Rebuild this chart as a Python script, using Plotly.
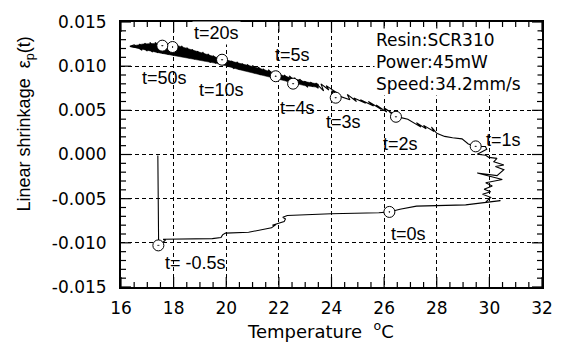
import plotly.graph_objects as go

# ---- data ----
# lower branch: start of exposure, t=-0.5s -> t=0s -> t=1s
low_x = [17.40, 17.43, 17.55, 17.68, 17.60, 17.75, 19.47, 19.80, 19.86, 19.97, 20.85, 21.72,
         21.90, 21.75, 21.95, 22.20, 22.25, 22.15, 22.32, 23.98, 25.80, 26.20, 26.60, 27.23,
         29.10, 29.98, 30.42, 29.86, 30.05, 29.74, 30.05, 29.80, 30.11, 29.86, 30.49, 29.54,
         30.29, 30.55, 30.23, 30.55, 30.17, 30.29, 29.98, 29.86, 29.54, 29.90, 29.85]
low_y = [-0.0001, -0.0102, -0.0101, -0.0097, -0.0096, -0.0096, -0.00952, -0.0094, -0.0091,
         -0.0089, -0.0088, -0.0083, -0.0079, -0.0080, -0.0078, -0.0076, -0.0073, -0.0071,
         -0.0069, -0.0067, -0.0066, -0.0065, -0.0062, -0.00584, -0.0057, -0.0054, -0.00522,
         -0.0054, -0.00485, -0.00449, -0.00422, -0.00394, -0.00356, -0.0032, -0.00283,
         -0.0021, -0.00239, -0.00173, -0.00136, -0.00118, -0.00081, -0.00044, -0.00033,
         -0.00008, 0.00003, 0.0006, 0.0009]

# upper branch: t=1s -> t=50s (cooling, shrinkage grows)
up_x = [29.48, 29.20, 28.96, 28.60, 28.30, 28.00, 27.80, 27.90, 27.50, 27.60, 27.23, 27.40,
        26.90, 26.60, 26.45, 26.20, 26.40, 25.99, 26.10, 25.70, 25.90, 25.40, 25.60, 25.10,
        25.30, 24.85, 24.95, 24.60, 24.70, 24.30, 24.16, 24.00, 24.20, 23.80, 23.90, 23.60,
        23.70, 23.40, 23.50, 23.20, 23.30, 22.97, 23.10, 22.80, 22.54, 22.60, 22.70, 22.40,
        22.50, 22.20, 22.30, 22.00, 21.88, 21.80, 21.90, 21.60, 21.70, 21.40, 21.50, 21.22,
        21.30, 21.00, 21.10, 20.80, 20.90, 20.60, 20.70, 20.40, 20.50, 20.20, 20.30, 20.00,
        19.84, 19.70, 19.80, 19.50, 19.60, 19.30, 19.40, 19.10, 19.20, 18.90, 19.00, 18.70,
        18.80, 18.50, 18.60, 18.30, 18.40, 18.10, 17.96, 17.90, 18.00, 17.70, 17.80, 17.50,
        17.60, 17.30, 17.40, 17.10, 17.20, 16.90, 17.00, 16.70, 16.80, 16.50, 16.34, 16.60,
        17.00, 17.30, 17.57]
up_y = [0.00092, 0.0012, 0.00177, 0.0019, 0.00205, 0.0024, 0.0031, 0.0026, 0.0033, 0.0029,
        0.0036, 0.0031, 0.0040, 0.0042, 0.00427, 0.0048, 0.0045, 0.0053, 0.0048, 0.0056,
        0.0051, 0.0060, 0.0055, 0.0062, 0.0058, 0.0064, 0.0060, 0.0068, 0.0062, 0.0066,
        0.00643, 0.0072, 0.0070, 0.0078, 0.0073, 0.0080, 0.0072, 0.0081, 0.0075, 0.0082,
        0.0077, 0.0083, 0.0076, 0.0085, 0.00802, 0.0087, 0.0080, 0.0089, 0.0082, 0.0090,
        0.0083, 0.0092, 0.00886, 0.0094, 0.0087, 0.0096, 0.0088, 0.0097, 0.0090, 0.0099,
        0.0090, 0.0101, 0.0092, 0.0102, 0.0094, 0.0103, 0.0095, 0.0105, 0.0096, 0.0106,
        0.0097, 0.0108, 0.01073, 0.0110, 0.0102, 0.0112, 0.0103, 0.0114, 0.0104, 0.0116,
        0.0106, 0.0117, 0.0107, 0.0119, 0.0108, 0.0121, 0.0109, 0.0123, 0.0111, 0.0124,
        0.01217, 0.0125, 0.0112, 0.0126, 0.0113, 0.0127, 0.0114, 0.0127, 0.0115, 0.0127,
        0.0116, 0.0126, 0.0117, 0.0125, 0.0118, 0.0124, 0.01224, 0.0121, 0.0120, 0.0121,
        0.01232]

# envelope of the dense (overplotted) part of the upper branch
band_x = [16.34, 16.84, 17.46, 18.09, 18.72, 19.34, 19.72, 20.47, 21.22, 22.22, 22.97, 23.50]
band_top = [0.01224, 0.01252, 0.01260, 0.01238, 0.01183, 0.01128, 0.01092, 0.01035, 0.00980,
            0.00888, 0.00826, 0.00798]
band_bot = [0.01224, 0.01190, 0.01150, 0.01120, 0.01082, 0.01046, 0.01026, 0.00962, 0.00905,
            0.00836, 0.00780, 0.00760]

# time markers
mark_t = ["t= -0.5s", "t=0s", "t=1s", "t=2s", "t=3s", "t=4s", "t=5s", "t=10s", "t=20s", "t=50s"]
mark_x = [17.42, 26.20, 29.48, 26.45, 24.16, 22.54, 21.88, 19.84, 17.96, 17.57]
mark_y = [-0.01029, -0.0065, 0.00092, 0.00427, 0.00643, 0.00802, 0.00886, 0.01073, 0.01217, 0.01232]
# where each time label sits (data coordinates)
label_x = [18.85, 26.93, 30.54, 26.63, 24.45, 22.69, 22.50, 19.83, 19.64, 17.65]
label_y = [-0.01224, -0.00904, 0.00168, 0.00121, 0.00364, 0.00529, 0.01125, 0.00728, 0.01380, 0.00871]

info_lines = ["Resin:SCR310", "Power:45mW", "Speed:34.2mm/s"]

# axis tick grid
x_major = [16, 18, 20, 22, 24, 26, 28, 30, 32]
y_major = [-0.015, -0.010, -0.005, 0.0, 0.005, 0.010, 0.015]
x_minor = [16 + 0.5 * i for i in range(33) if i % 4]
y_minor = [round(-0.015 + 0.001 * i, 4) for i in range(31) if i % 5]

# ---- figure ----
W, H = 565, 347
ML, MR, MT, MB = 121, 18, 15, 60
PW, PH = W - ML - MR, H - MT - MB

fig = go.Figure()
fig.add_trace(go.Scatter(x=band_x + band_x[::-1], y=band_top + band_bot[::-1], mode="lines",
                         fill="toself", fillcolor="black", line=dict(color="black", width=0.5),
                         hoverinfo="skip"))
fig.add_trace(go.Scatter(x=low_x + up_x, y=low_y + up_y, mode="lines",
                         line=dict(color="black", width=1.1), hoverinfo="skip"))
fig.add_trace(go.Scatter(x=mark_x, y=mark_y, mode="markers",
                         marker=dict(symbol="circle-dot", size=11, color="white",
                                     line=dict(color="black", width=1)),
                         hoverinfo="skip"))

# inside ticks on all four sides
tick_line = dict(color="black", width=1.2)
for v, L in [(v, 10) for v in x_major] + [(v, 5) for v in x_minor]:
    fig.add_shape(type="line", xref="x", yref="paper", x0=v, x1=v,
                  ysizemode="pixel", yanchor=0, y0=0, y1=L, line=tick_line, layer="above")
    fig.add_shape(type="line", xref="x", yref="paper", x0=v, x1=v,
                  ysizemode="pixel", yanchor=1, y0=0, y1=-L, line=tick_line, layer="above")
for v, L in [(v, 10) for v in y_major] + [(v, 5) for v in y_minor]:
    fig.add_shape(type="line", yref="y", xref="paper", y0=v, y1=v,
                  xsizemode="pixel", xanchor=0, x0=0, x1=L, line=tick_line, layer="above")
    fig.add_shape(type="line", yref="y", xref="paper", y0=v, y1=v,
                  xsizemode="pixel", xanchor=1, x0=0, x1=-L, line=tick_line, layer="above")

tfont = dict(family="Liberation Sans, Arial, sans-serif", size=18, color="black")
for t, lx, ly in zip(mark_t, label_x, label_y):
    fig.add_annotation(x=lx, y=ly, xref="x", yref="y", text=t, showarrow=False,
                       font=tfont, xanchor="center", yanchor="middle",
                       bgcolor="white" if t == "t=20s" else "rgba(0,0,0,0)",
                       borderpad=1)

fig.add_annotation(x=(377 - ML) / PW, y=(H - MB - 21) / PH, xref="paper", yref="paper",
                   text="<br>".join(info_lines), showarrow=False, align="left",
                   xanchor="left", yanchor="top", width=160,
                   bgcolor="white", borderpad=1,
                   font=dict(family="DejaVu Sans, sans-serif", size=17, color="black"))

# axis titles
fig.add_annotation(x=(323 - ML) / PW, y=(H - MB - 331) / PH, xref="paper", yref="paper",
                   text="Temperature  <sup>o</sup>C", showarrow=False,
                   xanchor="center", yanchor="middle",
                   font=dict(family="DejaVu Sans, sans-serif", size=18, color="black"))
fig.add_annotation(x=(24 - ML) / PW, y=(H - MB - 120) / PH, xref="paper", yref="paper",
                   text="Linear shrinkage  ε<sub>p</sub>(t)", showarrow=False, textangle=-90,
                   xanchor="center", yanchor="middle",
                   font=dict(family="Liberation Sans Narrow, Arial Narrow, Liberation Sans, sans-serif",
                             size=18, color="black"))

axis_common = dict(showline=True, linewidth=2, linecolor="black", mirror=True, ticks="",
                   showgrid=True, gridcolor="black", gridwidth=1, griddash="4px,3px",
                   zeroline=False,
                   tickfont=dict(family="DejaVu Sans, sans-serif", size=17, color="black"))

fig.update_xaxes(range=[16, 32], tickvals=x_major, ticktext=[str(v) for v in x_major],
                 ticklabelstandoff=5, **axis_common)
fig.update_yaxes(range=[-0.015, 0.015], tickvals=y_major,
                 ticktext=[f"{v:.3f}" for v in y_major], ticklabelstandoff=9, **axis_common)

fig.update_layout(width=W, height=H, margin=dict(l=ML, r=MR, t=MT, b=MB),
                  paper_bgcolor="white", plot_bgcolor="white", showlegend=False)

fig.write_html("out.html")
